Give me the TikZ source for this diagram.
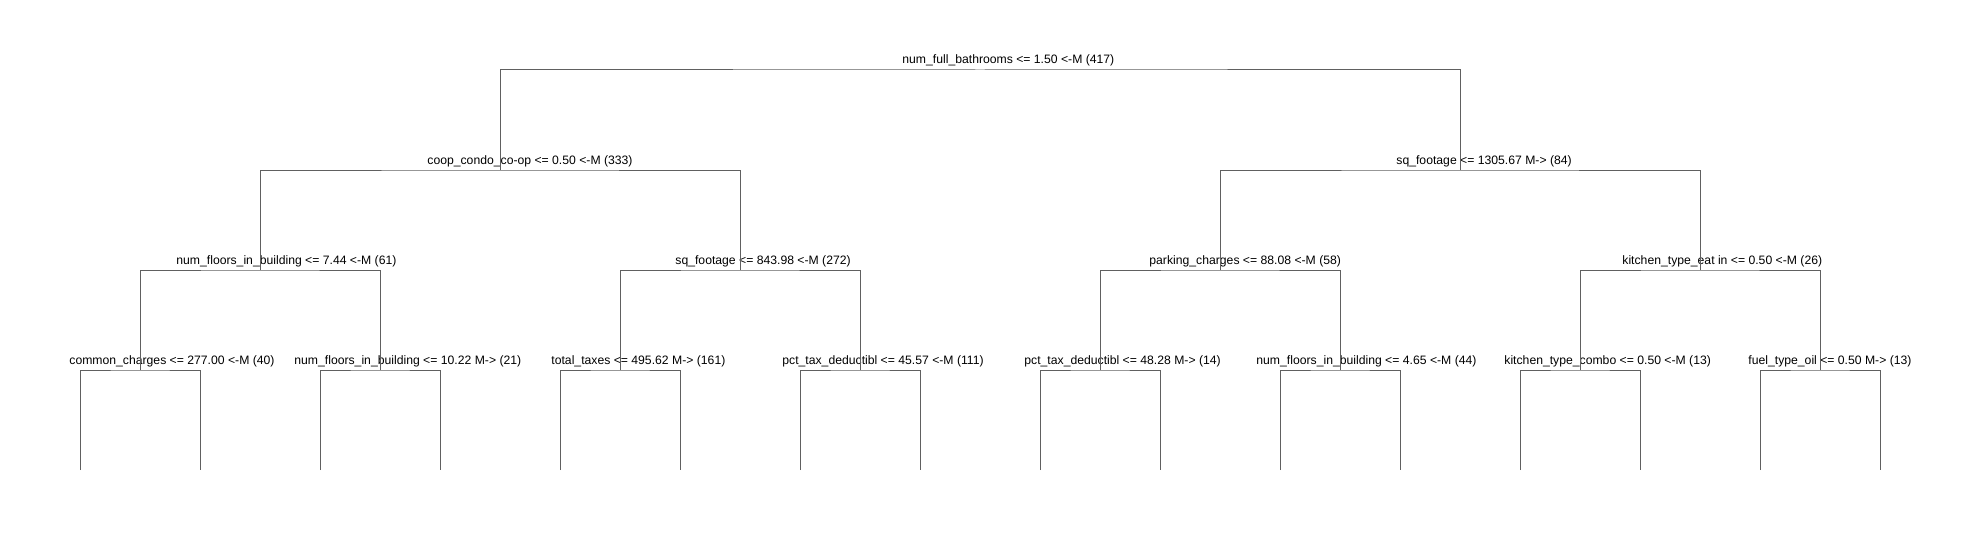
\documentclass[tikz,border=0pt]{standalone}
\usepackage{fontspec}
\setmainfont{Liberation Sans}
\definecolor{edgegray}{RGB}{96,96,96}

\begin{document}
\begin{tikzpicture}[x=0.5pt, y=-0.5pt,
    edge/.style={draw=edgegray, line width=0.5pt},
    split/.style={anchor=base west, inner sep=0pt, font=\fontsize{6.1pt}{7pt}\selectfont}]
    \useasboundingbox (0,0) rectangle (1984,540);

    % Split points
    \coordinate (root) at (980,70);
    \coordinate (condo) at (500,170);
    \coordinate (sqfta) at (1460,170);
    \coordinate (floorsa) at (260,270);
    \coordinate (sqftb) at (740,270);
    \coordinate (parking) at (1220,270);
    \coordinate (kitchena) at (1700,270);
    \coordinate (common) at (140,370);
    \coordinate (floorsb) at (380,370);
    \coordinate (taxes) at (620,370);
    \coordinate (pcta) at (860,370);
    \coordinate (pctb) at (1100,370);
    \coordinate (floorsc) at (1340,370);
    \coordinate (kitchenb) at (1580,370);
    \coordinate (fuel) at (1820,370);

    % Leaves
    \foreach \i in {0,...,15}
        \coordinate (leaf\i) at ({80+120*\i},470);

    % Split labels
    \node[split] (root-text) at (902,64) {num\_full\_bathrooms <= 1.50 <-M (417)};
    \node[split] (condo-text) at (427,164) {coop\_condo\_co-op <= 0.50 <-M (333)};
    \node[split] (sqfta-text) at (1396,164) {sq\_footage <= 1305.67 M-> (84)};
    \node[split] (floorsa-text) at (176,264) {num\_floors\_in\_building <= 7.44 <-M (61)};
    \node[split] (sqftb-text) at (675,264) {sq\_footage <= 843.98 <-M (272)};
    \node[split] (parking-text) at (1149,264) {parking\_charges <= 88.08 <-M (58)};
    \node[split] (kitchena-text) at (1622,264) {kitchen\_type\_eat in <= 0.50 <-M (26)};
    \node[split] (common-text) at (69,364) {common\_charges <= 277.00 <-M (40)};
    \node[split] (floorsb-text) at (294,364) {num\_floors\_in\_building <= 10.22 M-> (21)};
    \node[split] (taxes-text) at (551,364) {total\_taxes <= 495.62 M-> (161)};
    \node[split] (pcta-text) at (782,364) {pct\_tax\_deductibl <= 45.57 <-M (111)};
    \node[split] (pctb-text) at (1024,364) {pct\_tax\_deductibl <= 48.28 M-> (14)};
    \node[split] (floorsc-text) at (1256,364) {num\_floors\_in\_building <= 4.65 <-M (44)};
    \node[split] (kitchenb-text) at (1504,364) {kitchen\_type\_combo <= 0.50 <-M (13)};
    \node[split] (fuel-text) at (1748,364) {fuel\_type\_oil <= 0.50 M-> (13)};

    % Branches
    \draw[edge] (condo) |- (root) -| (sqfta);
    \draw[edge] (floorsa) |- (condo) -| (sqftb);
    \draw[edge] (parking) |- (sqfta) -| (kitchena);
    \draw[edge] (common) |- (floorsa) -| (floorsb);
    \draw[edge] (taxes) |- (sqftb) -| (pcta);
    \draw[edge] (pctb) |- (parking) -| (floorsc);
    \draw[edge] (kitchenb) |- (kitchena) -| (fuel);
    \foreach \p [count=\k from 0] in {common,floorsb,taxes,pcta,pctb,floorsc,kitchenb,fuel} {
        \pgfmathtruncatemacro\la{2*\k}
        \pgfmathtruncatemacro\lb{2*\k+1}
        \draw[edge] (leaf\la) |- (\p) -| (leaf\lb);
    }
\end{tikzpicture}
\end{document}
